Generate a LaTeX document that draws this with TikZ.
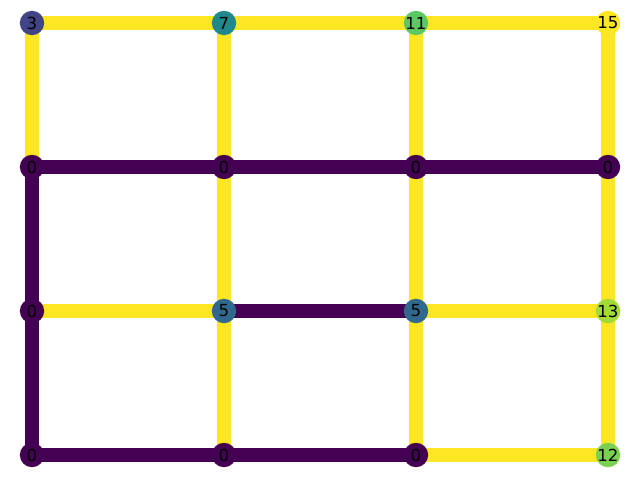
\documentclass[tikz,border=0pt]{standalone}
\usepackage{fontspec}
\setmainfont{DejaVu Sans}
\usepackage{xcolor}
\usepackage{tikz}
\usetikzlibrary{backgrounds}

\definecolor{v0}{HTML}{440154}
\definecolor{v3}{HTML}{414487}
\definecolor{v5}{HTML}{31688E}
\definecolor{v7}{HTML}{21888D}
\definecolor{v11}{HTML}{5CC863}
\definecolor{v12}{HTML}{7AD151}
\definecolor{v13}{HTML}{A2DA37}
\definecolor{v15}{HTML}{FDE725}

\begin{document}
\begin{tikzpicture}[x=0.025cm, y=-0.025cm,
    vert/.style={circle, inner sep=0pt, minimum size=0.61cm, font=\fontsize{11.8}{12}\selectfont},
    on/.style={line width=0.345cm, draw=v15},
    off/.style={line width=0.345cm, draw=v0}]

    \useasboundingbox (0,0) rectangle (640,480);

    % Nodi
    \node[vert, fill=v3]  (a0) at (32,23)   {3};
    \node[vert, fill=v7]  (a1) at (224,23)  {7};
    \node[vert, fill=v11] (a2) at (416,23)  {11};
    \node[vert, fill=v15] (a3) at (608,23)  {15};
    \node[vert, fill=v0]  (b0) at (32,167)  {0};
    \node[vert, fill=v0]  (b1) at (224,167) {0};
    \node[vert, fill=v0]  (b2) at (416,167) {0};
    \node[vert, fill=v0]  (b3) at (608,167) {0};
    \node[vert, fill=v0]  (c0) at (32,311)  {0};
    \node[vert, fill=v5]  (c1) at (224,311) {5};
    \node[vert, fill=v5]  (c2) at (416,311) {5};
    \node[vert, fill=v13] (c3) at (608,311) {13};
    \node[vert, fill=v0]  (d0) at (32,455)  {0};
    \node[vert, fill=v0]  (d1) at (224,455) {0};
    \node[vert, fill=v0]  (d2) at (416,455) {0};
    \node[vert, fill=v12] (d3) at (608,455) {12};

    % Archi
    \begin{scope}[on background layer]
    \draw[on] (a0.center) -- (a1.center) -- (a2.center) -- (a3.center);
    \foreach \i in {0,...,3} \draw[on] (a\i.center) -- (b\i.center);
    \draw[off] (b0.center) -- (b1.center) -- (b2.center) -- (b3.center);
    \draw[off] (b0.center) -- (c0.center) -- (d0.center) -- (d1.center) -- (d2.center);
    \foreach \i in {1,2,3} \draw[on] (b\i.center) -- (c\i.center) -- (d\i.center);
    \draw[on] (c0.center) -- (c1.center);
    \draw[off] (c1.center) -- (c2.center);
    \draw[on] (c2.center) -- (c3.center);
    \draw[on] (d2.center) -- (d3.center);
    \end{scope}
\end{tikzpicture}
\end{document}
